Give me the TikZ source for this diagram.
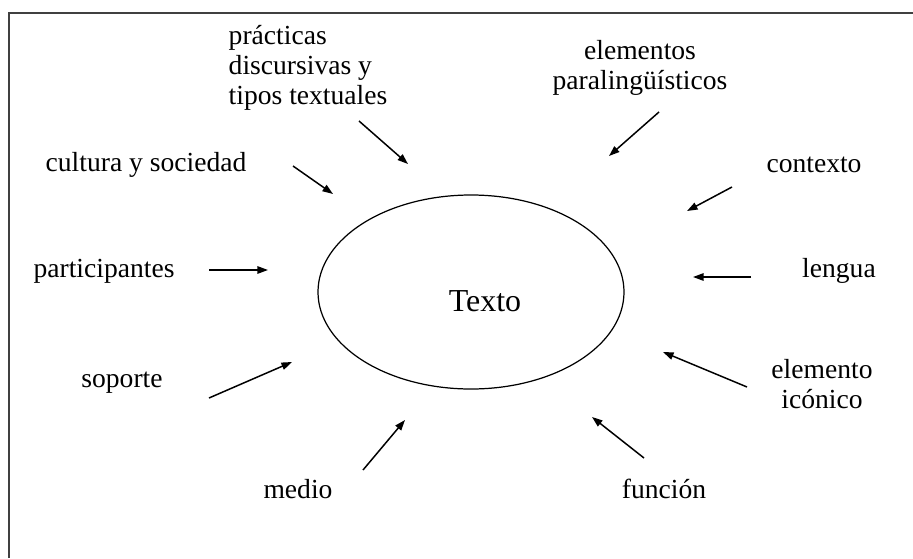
\documentclass[tikz,border=0pt]{standalone}
\usepackage{fontspec}
\setmainfont{Liberation Serif}
\usepackage{xcolor}
\usepackage{tikz}
\usetikzlibrary{arrows.meta}

\tikzset{
  lbl/.style={font=\fontsize{15.7}{17}\selectfont, inner sep=0pt},
  flecha/.style={-{Triangle[length=6pt,width=4.2pt]}, line width=0.85pt},
}

\begin{document}
\begin{tikzpicture}[x=0.02cm, y=-0.02cm]
\useasboundingbox (0,0) rectangle (913,558);
% marco
\draw[line width=1.1pt, black!75] (9,558) -- (9,13) -- (913,13);

% centro
\draw[line width=0.7pt] (471,292) ellipse [x radius=153, y radius=97];
\node[lbl, font=\fontsize{18.2}{20}\selectfont] (texto) at (485,301) {Texto};

% etiquetas
\node[lbl, align=left] (prac) at (308,68) {prácticas\\discursivas y\\tipos textuales};
\node[lbl, align=center] (para) at (640,68) {elementos\\paralingüísticos};
\node[lbl] (cult) at (146,165) {cultura y sociedad};
\node[lbl] (cont) at (814,165) {contexto};
\node[lbl] (part) at (104,271) {participantes};
\node[lbl] (leng) at (839,271) {lengua};
\node[lbl] (sopo) at (122,383) {soporte};
\node[lbl, align=center] (icon) at (822,384) {elemento\\icónico};
\node[lbl] (medi) at (298,489) {medio};
\node[lbl] (func) at (664,489) {función};

% extremos de las flechas
\coordinate (prac-a) at (359,121); \coordinate (prac-b) at (408,164);
\coordinate (para-a) at (659,112); \coordinate (para-b) at (609,156);
\coordinate (cult-a) at (293,166); \coordinate (cult-b) at (333,194);
\coordinate (cont-a) at (732,187); \coordinate (cont-b) at (687,211);
\coordinate (part-a) at (209,270); \coordinate (part-b) at (268,270);
\coordinate (leng-a) at (751,277); \coordinate (leng-b) at (693,277);
\coordinate (sopo-a) at (209,398); \coordinate (sopo-b) at (292,362);
\coordinate (icon-a) at (747,387); \coordinate (icon-b) at (663,352);
\coordinate (medi-a) at (363,470); \coordinate (medi-b) at (405,420);
\coordinate (func-a) at (644,458); \coordinate (func-b) at (592,417);

\foreach \n in {prac,para,cult,cont,part,leng,sopo,icon,medi,func}
  \draw[flecha] (\n-a) -- (\n-b);
\end{tikzpicture}
\end{document}
